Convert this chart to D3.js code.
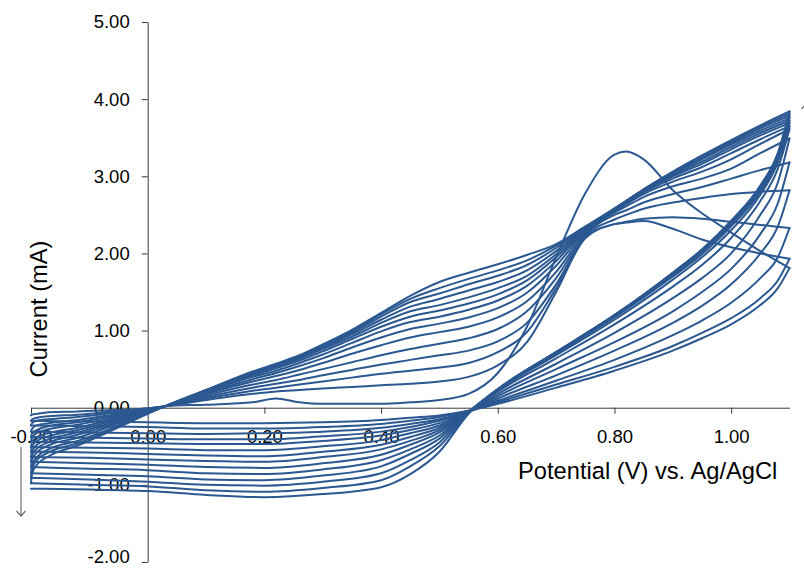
<!DOCTYPE html>
<html>
<head>
<meta charset="utf-8">
<script src="https://cdn.jsdelivr.net/npm/d3@7"></script>
<style>
  html, body { margin: 0; padding: 0; background: #fff; }
  svg { display: block; }
  text { font-family: "Liberation Sans", Arial, sans-serif; fill: #000; }
</style>
</head>
<body>
<svg id="chart" width="804" height="569"></svg>
<script>
// Potential grid (V) for the anodic (forward) sweeps
const forwardPotential = [-0.2, -0.198, -0.19, -0.17, -0.12, -0.06, 0.0, 0.03, 0.1, 0.18, 0.22, 0.26, 0.3, 0.35, 0.4, 0.45, 0.5, 0.55, 0.6, 0.65, 0.7, 0.75, 0.8, 0.82, 0.85, 0.9, 0.95, 1.0, 1.05, 1.1];

// Current (mA) of each forward sweep, cycle 1 first
const forwardCurrent = [
  [-0.10, -0.09, -0.08, -0.06, -0.05, -0.03, -0.01, 0.02, 0.04, 0.07, 0.12, 0.07, 0.05, 0.05, 0.05, 0.07, 0.10, 0.18, 0.45, 1.05, 1.95, 2.78, 3.28, 3.32, 3.22, 2.82, 2.52, 2.27, 2.03, 1.81],
  [-0.17, -0.15, -0.13, -0.11, -0.09, -0.05, -0.01, 0.02, 0.10, 0.18, 0.21, 0.23, 0.25, 0.27, 0.29, 0.31, 0.34, 0.40, 0.55, 0.85, 1.50, 2.20, 2.38, 2.40, 2.42, 2.32, 2.18, 2.08, 2.00, 1.93],
  [-0.23, -0.20, -0.17, -0.15, -0.12, -0.07, -0.02, 0.02, 0.12, 0.22, 0.26, 0.30, 0.34, 0.39, 0.44, 0.48, 0.52, 0.58, 0.72, 0.98, 1.55, 2.20, 2.38, 2.41, 2.45, 2.47, 2.45, 2.41, 2.37, 2.33],
  [-0.31, -0.27, -0.23, -0.20, -0.16, -0.09, -0.03, 0.02, 0.14, 0.26, 0.31, 0.36, 0.42, 0.49, 0.56, 0.62, 0.68, 0.74, 0.86, 1.10, 1.60, 2.22, 2.44, 2.50, 2.58, 2.66, 2.72, 2.77, 2.80, 2.82],
  [-0.38, -0.33, -0.29, -0.24, -0.19, -0.11, -0.03, 0.02, 0.16, 0.30, 0.36, 0.43, 0.50, 0.59, 0.68, 0.76, 0.83, 0.90, 1.02, 1.25, 1.68, 2.24, 2.50, 2.56, 2.66, 2.77, 2.86, 2.97, 3.08, 3.18],
  [-0.44, -0.38, -0.33, -0.28, -0.22, -0.13, -0.04, 0.02, 0.18, 0.34, 0.41, 0.49, 0.58, 0.70, 0.81, 0.91, 0.98, 1.05, 1.17, 1.38, 1.76, 2.26, 2.53, 2.61, 2.73, 2.87, 2.97, 3.10, 3.30, 3.49],
  [-0.51, -0.44, -0.38, -0.33, -0.26, -0.15, -0.04, 0.02, 0.19, 0.37, 0.45, 0.54, 0.64, 0.78, 0.91, 1.02, 1.09, 1.17, 1.29, 1.49, 1.84, 2.28, 2.55, 2.64, 2.77, 2.93, 3.06, 3.22, 3.42, 3.61],
  [-0.57, -0.50, -0.43, -0.37, -0.29, -0.17, -0.05, 0.02, 0.20, 0.40, 0.48, 0.58, 0.69, 0.84, 0.99, 1.11, 1.18, 1.27, 1.39, 1.58, 1.90, 2.30, 2.56, 2.65, 2.79, 2.97, 3.12, 3.30, 3.48, 3.65],
  [-0.64, -0.56, -0.48, -0.41, -0.32, -0.19, -0.05, 0.02, 0.21, 0.42, 0.51, 0.61, 0.73, 0.89, 1.05, 1.18, 1.26, 1.35, 1.47, 1.65, 1.95, 2.31, 2.57, 2.66, 2.80, 3.00, 3.16, 3.35, 3.53, 3.69],
  [-0.70, -0.61, -0.53, -0.45, -0.35, -0.21, -0.06, 0.02, 0.21, 0.43, 0.53, 0.63, 0.76, 0.92, 1.10, 1.25, 1.33, 1.43, 1.55, 1.71, 1.99, 2.32, 2.57, 2.67, 2.81, 3.02, 3.19, 3.38, 3.56, 3.72],
  [-0.77, -0.67, -0.58, -0.49, -0.39, -0.23, -0.06, 0.02, 0.22, 0.44, 0.54, 0.65, 0.78, 0.95, 1.14, 1.31, 1.41, 1.52, 1.63, 1.78, 2.03, 2.33, 2.58, 2.68, 2.82, 3.03, 3.22, 3.41, 3.59, 3.75],
  [-0.85, -0.74, -0.64, -0.54, -0.43, -0.26, -0.07, 0.02, 0.22, 0.45, 0.55, 0.66, 0.80, 0.97, 1.18, 1.37, 1.48, 1.60, 1.71, 1.85, 2.07, 2.34, 2.58, 2.68, 2.82, 3.04, 3.24, 3.43, 3.62, 3.78],
  [-0.91, -0.79, -0.68, -0.58, -0.46, -0.27, -0.07, 0.02, 0.23, 0.46, 0.56, 0.67, 0.81, 0.99, 1.21, 1.41, 1.55, 1.67, 1.78, 1.91, 2.10, 2.34, 2.58, 2.68, 2.83, 3.05, 3.26, 3.45, 3.64, 3.81],
  [-0.98, -0.85, -0.74, -0.63, -0.49, -0.29, -0.08, 0.02, 0.23, 0.47, 0.57, 0.68, 0.82, 1.01, 1.23, 1.45, 1.63, 1.75, 1.86, 1.98, 2.12, 2.35, 2.58, 2.68, 2.83, 3.06, 3.27, 3.47, 3.66, 3.84]
];

// Potential grid (V) for the cathodic (reverse) sweeps, 1.10 V back to -0.20 V
const reversePotential = [1.1, 1.08, 1.05, 1.0, 0.95, 0.9, 0.8, 0.7, 0.6, 0.55, 0.5, 0.45, 0.4, 0.3, 0.2, 0.1, 0.0, -0.1, -0.2];

// Current (mA) of each reverse sweep, cycle 1 first
const reverseCurrent = [
  [1.81, 1.55, 1.33, 1.08, 0.90, 0.74, 0.48, 0.26, 0.05, -0.04, -0.10, -0.13, -0.16, -0.19, -0.20, -0.20, -0.19, -0.18, -0.17],
  [1.93, 1.65, 1.42, 1.16, 0.97, 0.80, 0.53, 0.30, 0.07, -0.04, -0.12, -0.17, -0.21, -0.25, -0.27, -0.27, -0.25, -0.24, -0.23],
  [2.33, 1.95, 1.68, 1.36, 1.13, 0.94, 0.62, 0.35, 0.09, -0.05, -0.15, -0.21, -0.26, -0.31, -0.33, -0.34, -0.33, -0.32, -0.31],
  [2.82, 2.35, 2.00, 1.60, 1.32, 1.10, 0.74, 0.42, 0.12, -0.05, -0.17, -0.25, -0.31, -0.37, -0.41, -0.41, -0.40, -0.39, -0.38],
  [3.18, 2.65, 2.25, 1.80, 1.50, 1.25, 0.85, 0.50, 0.15, -0.05, -0.20, -0.29, -0.36, -0.43, -0.47, -0.47, -0.46, -0.45, -0.44],
  [3.49, 2.92, 2.50, 2.00, 1.68, 1.42, 0.97, 0.57, 0.18, -0.05, -0.23, -0.33, -0.42, -0.50, -0.55, -0.55, -0.53, -0.52, -0.51],
  [3.61, 3.10, 2.68, 2.20, 1.85, 1.57, 1.08, 0.64, 0.21, -0.05, -0.26, -0.38, -0.48, -0.57, -0.63, -0.62, -0.60, -0.58, -0.57],
  [3.65, 3.18, 2.76, 2.30, 1.95, 1.66, 1.14, 0.68, 0.23, -0.05, -0.29, -0.43, -0.54, -0.64, -0.70, -0.69, -0.67, -0.65, -0.64],
  [3.69, 3.22, 2.80, 2.35, 1.99, 1.70, 1.17, 0.70, 0.23, -0.05, -0.32, -0.48, -0.61, -0.72, -0.78, -0.77, -0.74, -0.72, -0.70],
  [3.72, 3.25, 2.83, 2.38, 2.02, 1.72, 1.18, 0.71, 0.24, -0.05, -0.36, -0.54, -0.68, -0.80, -0.86, -0.85, -0.81, -0.79, -0.77],
  [3.75, 3.27, 2.85, 2.40, 2.03, 1.73, 1.19, 0.72, 0.24, -0.06, -0.40, -0.60, -0.76, -0.88, -0.94, -0.93, -0.89, -0.87, -0.85],
  [3.78, 3.28, 2.86, 2.41, 2.04, 1.74, 1.20, 0.72, 0.24, -0.06, -0.45, -0.68, -0.85, -0.96, -1.01, -1.00, -0.96, -0.93, -0.91],
  [3.81, 3.29, 2.87, 2.42, 2.05, 1.75, 1.20, 0.72, 0.24, -0.07, -0.50, -0.76, -0.94, -1.04, -1.09, -1.07, -1.02, -1.00, -0.98],
  [3.84, 3.30, 2.88, 2.42, 2.05, 1.75, 1.20, 0.72, 0.24, -0.08, -0.57, -0.86, -1.03, -1.12, -1.16, -1.13, -1.08, -1.06, -1.05]
];

// Axis ticks
const xTicks = [-0.2, 0.0, 0.2, 0.4, 0.6, 0.8, 1.0];
const yTicks = [-2, -1, 0, 1, 2, 3, 4, 5];

const lineColor = "#2b5891";
const axisColor = "#3a3a3a";

const svg = d3.select("#chart");

const x = d3.scaleLinear().domain([-0.2, 1.1]).range([31, 789.5]);
const y = d3.scaleLinear().domain([-2, 5]).range([562, 22]);

const fmt = d => d.toFixed(2);

// Horizontal axis through zero current
const gx = svg.append("g")
  .attr("transform", `translate(0,${y(0)})`)
  .call(d3.axisBottom(x).tickValues(xTicks).tickFormat(fmt).tickSize(6).tickSizeOuter(0).tickPadding(16));
// Vertical axis through zero potential
const gy = svg.append("g")
  .attr("transform", `translate(${x(0)},0)`)
  .call(d3.axisLeft(y).tickValues(yTicks).tickFormat(fmt).tickSize(6).tickSizeOuter(0).tickPadding(12));

[gx, gy].forEach(g => {
  g.select(".domain").attr("stroke", axisColor).attr("stroke-width", 1);
  g.selectAll(".tick line").attr("stroke", axisColor).attr("stroke-width", 1);
  g.selectAll(".tick text")
    .attr("fill", "#000")
    .style("font-family", '"Liberation Sans", Arial, sans-serif')
    .style("font-size", "18.5px");
});
// keep the lowest current label inside the frame
gy.selectAll(".tick text").filter(d => d === -2).attr("dy", "0.04em");

// Axis titles
svg.append("text")
  .attr("x", 518).attr("y", 479)
  .style("font-size", "23.7px")
  .text("Potential (V) vs. Ag/AgCl");

svg.append("text")
  .attr("transform", "translate(47,309) rotate(-90)")
  .attr("text-anchor", "middle")
  .style("font-size", "23.7px")
  .text("Current (mA)");

// Scan-direction arrows
const arrows = svg.append("g").attr("stroke", "#6e6e6e").attr("stroke-width", 1.2).attr("fill", "none");
arrows.append("path").attr("d", "M21,447 L21,516 M16.5,511 L21,516 L25.5,511");
arrows.append("path").attr("d", "M806,104 L806,170 M801.5,109 L806,104 L810.5,109");

// Voltammogram cycles
const line = d3.line()
  .x(d => x(d[0]))
  .y(d => y(d[1]))
  .curve(d3.curveMonotoneX);

const curves = svg.append("g")
  .attr("fill", "none")
  .attr("stroke", lineColor)
  .attr("stroke-width", 2)
  .attr("stroke-linejoin", "round")
  .attr("stroke-linecap", "round");

forwardCurrent.forEach(cycle => {
  const pts = forwardPotential.map((e, k) => [e, cycle[k]]);
  curves.append("path").attr("d", line(pts));
});

reverseCurrent.forEach(cycle => {
  const pts = reversePotential.map((e, k) => [e, cycle[k]]).reverse();
  curves.append("path").attr("d", line(pts));
});
</script>
</body>
</html>
